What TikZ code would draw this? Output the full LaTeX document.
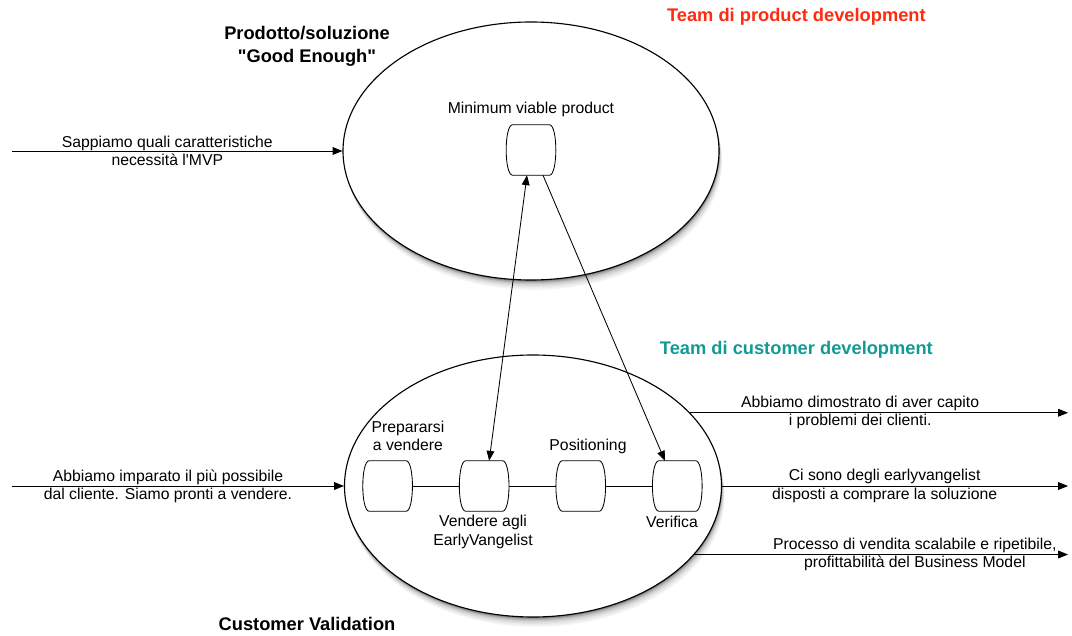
\documentclass[tikz,border=0pt]{standalone}
\usepackage{fontspec}
\setmainfont{Liberation Sans}[Ligatures=TeXOff]
\usetikzlibrary{positioning}
\usetikzlibrary{shapes.geometric}
\usetikzlibrary{arrows.meta}

\definecolor{productred}{RGB}{255,42,15}
\definecolor{customerteal}{RGB}{19,154,148}

\begin{document}
\begin{tikzpicture}[
  >={Triangle[length=7pt,width=5.5pt]},
  link/.style={line width=0.6pt},
  phase/.style={ellipse,draw,fill=white,line width=0.8pt,inner sep=0pt},
  stage/.style={rectangle,minimum width=1.225cm,minimum height=1.25cm,inner sep=0pt,
    append after command={\pgfextra{\draw[link,fill=white]
      ([xshift=0.16cm]\tikzlastnode.north west) -- ([xshift=-0.16cm]\tikzlastnode.north east)
      .. controls ([xshift=0.055cm]\tikzlastnode.north east) and ([xshift=0.055cm]\tikzlastnode.south east)
      .. ([xshift=-0.16cm]\tikzlastnode.south east) -- ([xshift=0.16cm]\tikzlastnode.south west)
      .. controls ([xshift=-0.055cm]\tikzlastnode.south west) and ([xshift=-0.055cm]\tikzlastnode.north west)
      .. cycle;}}},
  note/.style={font=\fontsize{11.2}{13}\selectfont,align=center},
  heading/.style={font=\fontsize{13}{16.4}\selectfont\bfseries,align=center}
]
\useasboundingbox (0,0) rectangle (26.8,15.875);

% soft shadows under the two phases
\foreach \d/\g in {7/4,6/7,5/11,4/16,3/22,2.2/30,1.4/40,0.8/50}{
  \fill[black!\g] ({13.275+0.011*\d},{12.1-0.035*\d}) ellipse (4.7cm and 3.225cm);
  \fill[black!\g] ({13.325+0.011*\d},{3.725-0.035*\d}) ellipse (4.7125cm and 3.275cm);
}

% the two phases
\node[phase,minimum width=9.4cm,minimum height=6.45cm] (pd) at (13.275,12.1) {};
\node[phase,minimum width=9.425cm,minimum height=6.55cm] (cv) at (13.325,3.725) {};

\node[heading] (pdtitle) at (7.675,14.725) {Prodotto/soluzione\\"Good Enough"};
\node[heading,text=productred] (pdteam) at (19.91,15.45) {Team di product development};
\node[heading,text=customerteal] (cvteam) at (19.91,7.125) {Team di customer development};
\node[heading] (cvtitle) at (7.675,0.275) {Customer Validation};

% stages
\node[stage] (mvp) at (13.275,12.125) {};
\node[note] at (13.275,13.15) {Minimum viable product};

\node[stage] (prep) at (9.69,3.725) {};
\node[stage,right=1.175cm of prep] (sell) {};
\node[stage,right=1.175cm of sell] (posit) {};
\node[stage,right=1.175cm of posit] (verif) {};
\draw[link] (prep) -- (sell) (sell) -- (posit) (posit) -- (verif);

\node[note] at (10.2,4.975) {Prepararsi\\a vendere};
\node[note] at (14.7,4.725) {Positioning};
\node[note] at (12.075,2.575) {Vendere agli\\EarlyVangelist};
\node[note] at (16.8,2.825) {Verifica};

\draw[link,<->] ([xshift=-0.1cm]mvp.south) -- ([xshift=0.125cm]sell.north);
\draw[link,->] ([xshift=0.3cm]mvp.south) -- ([xshift=-0.31cm]verif.north);

% inputs and outputs
\coordinate (in1) at (0.3,12.1);
\coordinate (in2) at (0.3,3.725);
\coordinate (out1) at (26.7,5.575);
\coordinate (out2) at (26.7,3.725);
\coordinate (out3) at (26.7,1.975);

\draw[link,->] (in1) -- node[note,pos=0.47] {Sappiamo quali caratteristiche\\necessità l'MVP} (pd.west);
\draw[link,->] (in2) -- node[note,pos=0.47] {Abbiamo imparato il più possibile\\dal cliente. Siamo pronti a vendere.} (cv.west);

\draw[link,->] (cv.25.5) -- node[note,pos=0.45] {Abbiamo dimostrato di aver capito\\i problemi dei clienti.} (cv.25.5 -| out1);
\draw[link,->] (cv.east) -- node[note,pos=0.47] {Ci sono degli earlyvangelist\\disposti a comprare la soluzione} (out2);
\draw[link,->] (cv.-23.8) -- node[note,pos=0.59] {Processo di vendita scalabile e ripetibile,\\profittabilità del Business Model} (cv.-23.8 -| out3);

\end{tikzpicture}
\end{document}
